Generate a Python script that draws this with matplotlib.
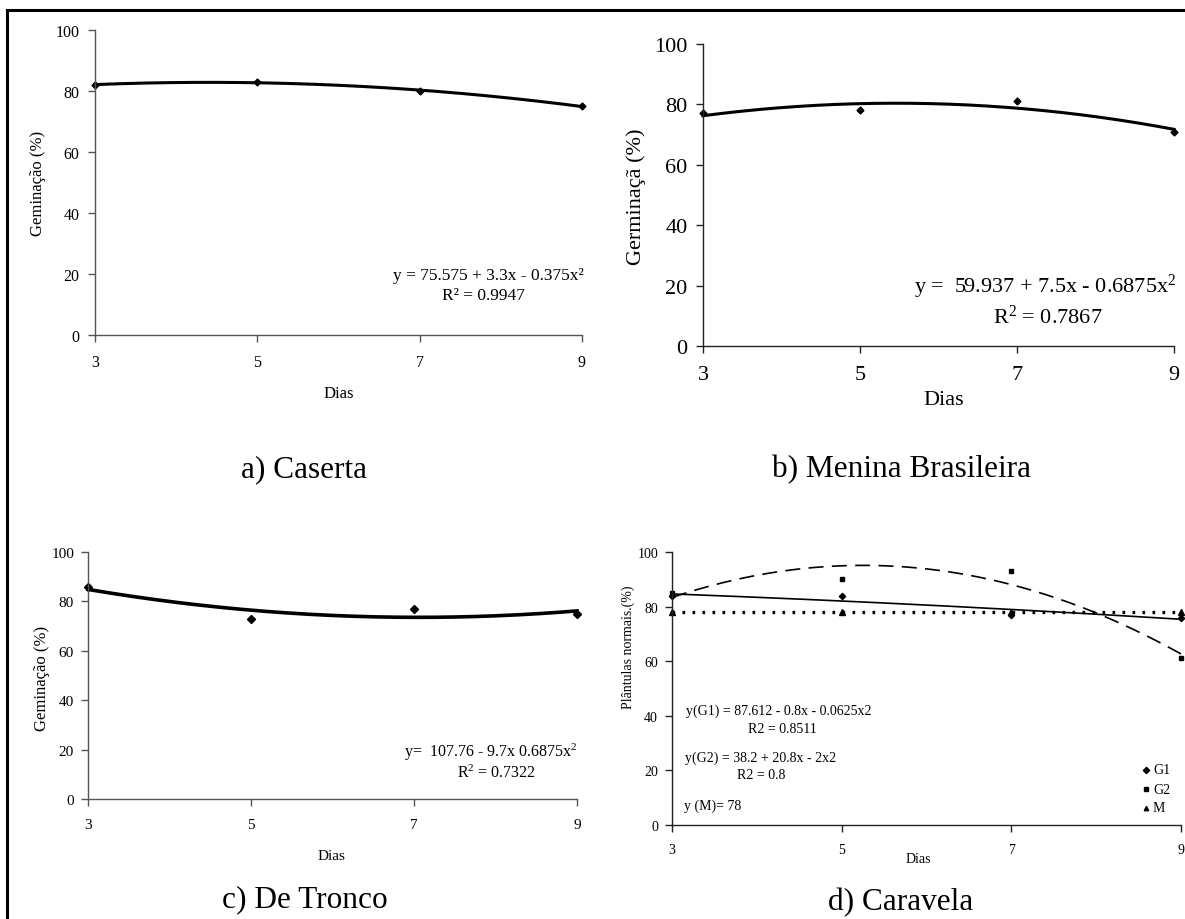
import numpy as np
import matplotlib
matplotlib.use("Agg")
import matplotlib.pyplot as plt
from matplotlib.lines import Line2D

W, H = 1185, 920
DPI = 100

# ---- data ----
days = [3, 5, 7, 9]
caserta = [82, 83, 80, 75]
menina = [77, 78, 81, 71]
tronco = [86, 73, 77, 75]
caravela_g1 = [84, 84, 77, 76]
caravela_g2 = [85, 90, 93, 61]
caravela_m = [78, 78, 78, 78]
xticks = [3, 5, 7, 9]
yticks = [0, 20, 40, 60, 80, 100]

plt.rcParams['font.family'] = ['Liberation Serif', 'DejaVu Serif']
plt.rcParams['mathtext.fontset'] = 'custom'
plt.rcParams['mathtext.rm'] = 'Liberation Serif'
plt.rcParams['mathtext.it'] = 'Liberation Serif:italic'
plt.rcParams['mathtext.default'] = 'rm'

fig = plt.figure(figsize=(W / DPI, H / DPI), dpi=DPI)


def ax_px(x0, y0, x1, y1):
    return fig.add_axes([x0 / W, 1 - y1 / H, (x1 - x0) / W, (y1 - y0) / H])


def ftext(x, y, s, **kw):
    kw.setdefault('ha', 'center')
    kw.setdefault('va', 'center')
    fig.text(x / W, 1 - y / H, s, **kw)


def style(ax, fs, tlen, xpad, ypad, color='#444444', lw=1.0):
    ax.set_xlim(3, 9)
    ax.set_ylim(0, 100)
    ax.set_xticks(xticks)
    ax.set_yticks(yticks)
    for s in ['top', 'right']:
        ax.spines[s].set_visible(False)
    for s in ['left', 'bottom']:
        ax.spines[s].set_color(color)
        ax.spines[s].set_linewidth(lw)
    ax.tick_params(direction='out', length=tlen, width=lw, color=color,
                   labelsize=fs, labelcolor='black')
    ax.tick_params(axis='x', pad=xpad)
    ax.tick_params(axis='y', pad=ypad)
    ax.patch.set_alpha(0)


def trend(ax, vals, deg, **kw):
    coef = np.polyfit(days, vals, deg)
    xs = np.linspace(3, 9, 200)
    ax.plot(xs, np.polyval(coef, xs), clip_on=False, **kw)


# ---- outer frame ----
fig.add_artist(Line2D([7 / W, 1.0], [1 - 11 / H, 1 - 11 / H], color='black', lw=2.2,
                      transform=fig.transFigure))
fig.add_artist(Line2D([7 / W, 7 / W], [1 - 11 / H, 0.0], color='black', lw=2.2,
                      transform=fig.transFigure))

# ---- a) Caserta ----
axa = ax_px(95, 31, 582, 336)
style(axa, 11.5, 5, 9, 6, color='#555555')
trend(axa, caserta, 2, color='black', lw=2.2)
axa.plot(days, caserta, 'D', color='black', ms=3.5, clip_on=False)
ftext(339, 394, 'Dias', fontsize=12)
ftext(38, 183, 'Geminação (%)', fontsize=12, rotation=90)
ftext(584, 276, 'y = 75.575 + 3.3x - 0.375x²', fontsize=12.5, ha='right')
ftext(483, 296, 'R² = 0.9947', fontsize=12.5)
ftext(304, 470, 'a) Caserta', fontsize=22.5)

# ---- b) Menina Brasileira ----
axb = ax_px(703, 45, 1174, 347)
style(axb, 16, 5, 9, 6, color='#222222')
trend(axb, menina, 2, color='black', lw=2.2)
axb.plot(days, menina, 'D', color='black', ms=3.5, clip_on=False)
ftext(944, 401, 'Dias', fontsize=16)
ftext(636, 197, 'Germinaçã (%)', fontsize=16, rotation=90)
ftext(1176, 287, 'y =  59.937 + 7.5x - 0.6875x$^{2}$', fontsize=16, ha='right')
ftext(1048, 317, 'R$^{2}$ = 0.7867', fontsize=16)
ftext(902, 470, 'b) Menina Brasileira', fontsize=22.5)

# ---- c) De Tronco ----
axc = ax_px(88, 553, 577, 800)
style(axc, 11, 5, 9, 5, color='#555555')
trend(axc, tronco, 2, color='black', lw=2.6)
axc.plot(days, tronco, 'D', color='black', ms=4, clip_on=False)
ftext(331, 857, 'Dias', fontsize=11)
ftext(42, 678, 'Geminação (%)', fontsize=12, rotation=90)
ftext(577, 752, 'y=  107.76 - 9.7x 0.6875x$^{2}$', fontsize=11.5, ha='right')
ftext(496, 773, 'R$^{2}$ = 0.7322', fontsize=11.5)
ftext(305, 900, 'c) De Tronco', fontsize=22.5)

# ---- d) Caravela ----
axd = ax_px(672, 553, 1181, 826)
style(axd, 10, 5, 8, 5, color='#222222')
trend(axd, caravela_g1, 2, color='black', lw=1.2)
trend(axd, caravela_g2, 2, color='black', lw=1.2, dashes=(9, 5))
trend(axd, caravela_m, 0, color='black', lw=2.4, dashes=(0.8, 2.2))
axd.plot(days, caravela_g1, 'D', color='black', ms=3.2, clip_on=False)
axd.plot(days, caravela_g2, 's', color='black', ms=3.5, clip_on=False)
axd.plot(days, caravela_m, '^', color='black', ms=4, clip_on=False)
ftext(918, 860, 'Dias', fontsize=10)
ftext(628, 647, 'Plântulas normais.(%)', fontsize=10, rotation=90)
ftext(686, 711, 'y(G1) = 87.612 - 0.8x - 0.0625x2', fontsize=10, ha='left')
ftext(782, 730, 'R2 = 0.8511', fontsize=10)
ftext(685, 758, 'y(G2) = 38.2 + 20.8x - 2x2', fontsize=10, ha='left')
ftext(761, 776, 'R2 = 0.8', fontsize=10)
ftext(684, 806, 'y (M)= 78', fontsize=10, ha='left')
for yy, mk, lab in [(771, 'D', 'G1'), (790, 's', 'G2'), (809, '^', 'M')]:
    fig.add_artist(Line2D([1146 / W], [1 - yy / H], marker=mk, ms=3.2, color='black',
                          linestyle='none', transform=fig.transFigure))
    ftext(1153, yy, lab, fontsize=10, ha='left')
ftext(901, 903, 'd) Caravela', fontsize=22.5)

fig.savefig('out.png', dpi=DPI)
